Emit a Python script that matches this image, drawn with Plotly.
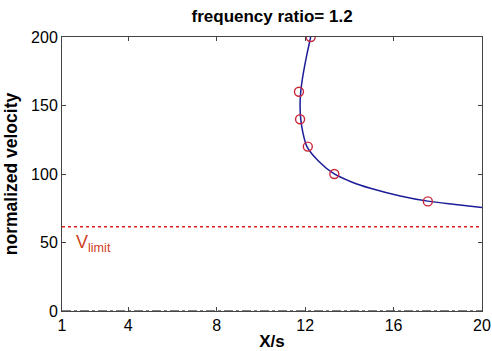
import plotly.graph_objects as go

# data
marker_x = [12.25, 11.72, 11.77, 12.12, 13.32, 17.55]
marker_y = [200, 160, 140, 120, 100, 80]
curve_x = [12.25, 12.05, 11.88, 11.80, 11.77, 11.80, 11.90, 12.08, 12.60, 13.30, 14.10, 14.95, 16.30, 17.55, 18.70, 20.0]
curve_y = [200, 185, 170, 160, 150, 140, 130, 120, 109.5, 100.2, 94.2, 89.6, 84.0, 80.2, 77.9, 75.6]
limit_y = 61.5
x_range = [1, 20]
y_range = [0, 200]
x_ticks = [1, 4, 8, 12, 16, 20]
y_ticks = [0, 50, 100, 150, 200]

fig = go.Figure()
fig.add_trace(go.Scatter(x=x_range, y=[0, 0], mode="lines",
                         line=dict(color="black", width=1.2, dash="dashdot"),
                         showlegend=False, hoverinfo="skip"))
fig.add_trace(go.Scatter(x=x_range, y=[limit_y, limit_y], mode="lines",
                         line=dict(color="#e02020", width=1.5, dash="dot"),
                         showlegend=False))
fig.add_trace(go.Scatter(x=curve_x, y=curve_y, mode="lines",
                         line=dict(color="#1c1c9a", width=1.5, shape="spline", smoothing=0.8),
                         showlegend=False))
fig.add_trace(go.Scatter(x=marker_x, y=marker_y, mode="markers",
                         marker=dict(symbol="circle-open", size=9, color="#c8283c",
                                     line=dict(width=1.4)),
                         showlegend=False))

fig.add_annotation(x=1.55, y=49, xref="x", yref="y", text="V<sub>limit</sub>",
                   showarrow=False, xanchor="left", yanchor="middle",
                   font=dict(family="Liberation Sans, Arial", size=18, color="#d0401c"))

axis_common = dict(showgrid=False, zeroline=False, showline=True, linecolor="#444444",
                   linewidth=1, mirror="ticks", ticks="inside", ticklen=4,
                   tickcolor="#444444", automargin=False,
                   tickfont=dict(family="Liberation Sans, Arial", size=16, color="black"))

fig.update_layout(
    width=492, height=351,
    margin=dict(l=62, r=10, t=37, b=40),
    paper_bgcolor="white", plot_bgcolor="white",
    title=dict(text="<b>frequency ratio= 1.2</b>", x=0.553, xanchor="center",
               y=0.955, yanchor="middle",
               font=dict(family="Liberation Sans, Arial", size=17, color="black")),
    xaxis=dict(range=x_range, tickvals=x_ticks,
               title=dict(text="<b>X/s</b>", standoff=6,
                          font=dict(family="Liberation Sans, Arial", size=17, color="black")),
               **axis_common),
    yaxis=dict(range=y_range, tickvals=y_ticks,
               title=dict(text="<b>normalized velocity</b>", standoff=8,
                          font=dict(family="Liberation Sans, Arial", size=17.5, color="black")),
               **axis_common),
)

fig.write_html("out.html")
